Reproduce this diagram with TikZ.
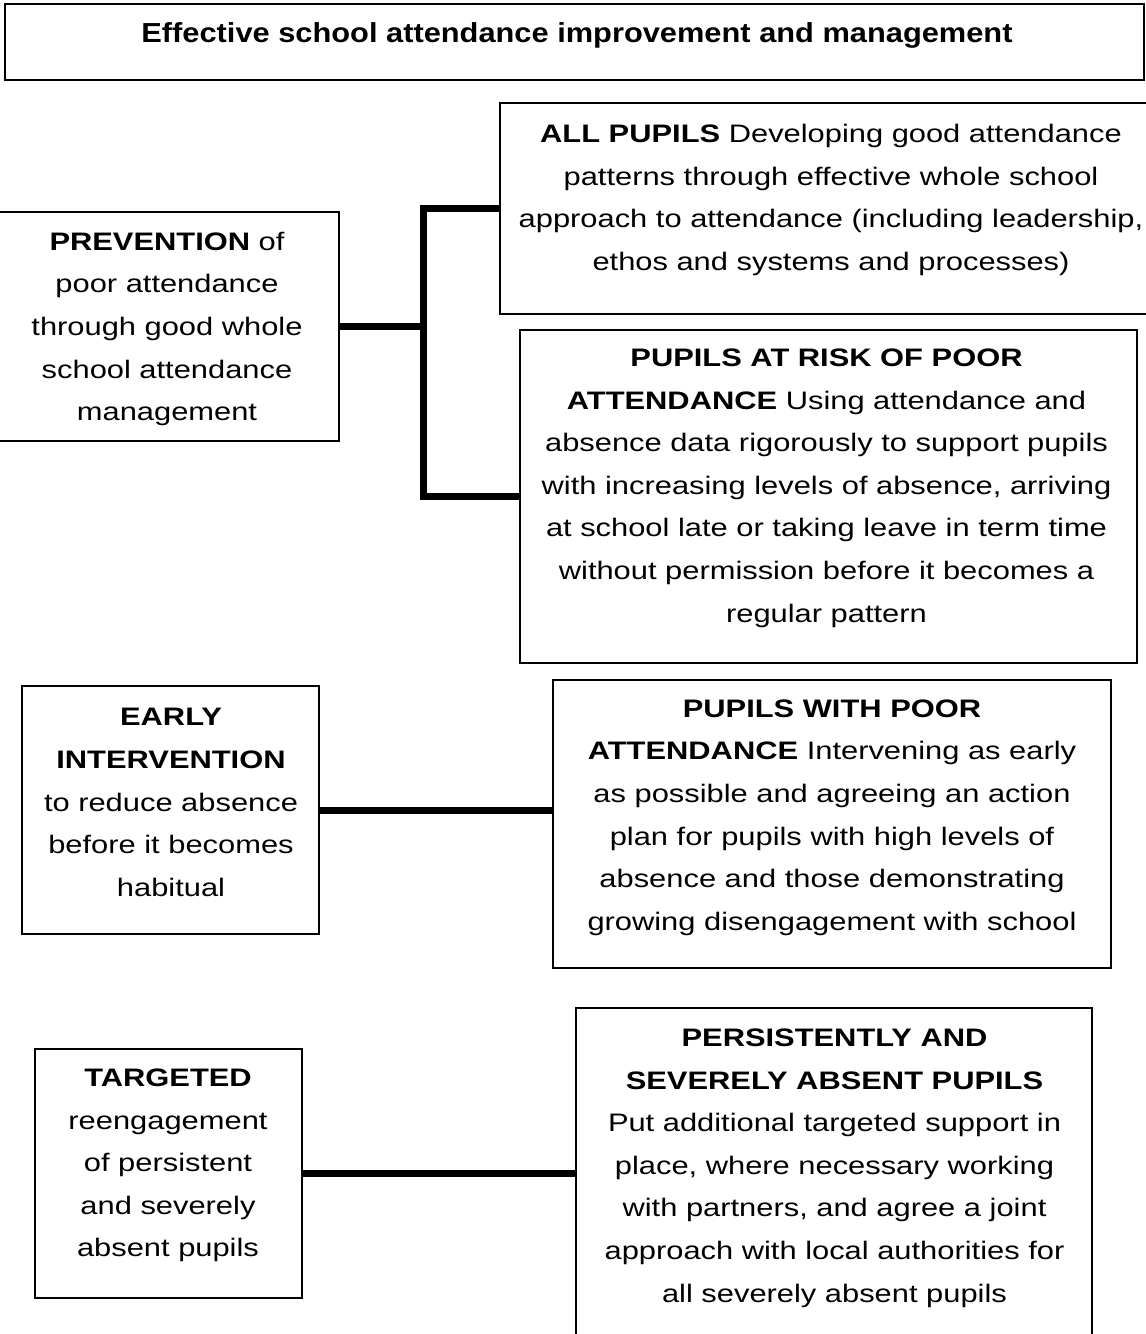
\documentclass[tikz,border=0pt]{standalone}
\usepackage{fontspec}
\newfontfamily\bodyfont[FakeStretch=1.22]{Liberation Sans}
\newfontfamily\headfont[FakeStretch=1.12]{Liberation Sans}
\tikzset{
  box/.style={draw=black, line width=2pt, rectangle, inner sep=0pt},
  txt/.style={align=center, inner sep=0pt, font=\bodyfont\fontsize{25.3}{42.6}\selectfont},
  conn/.style={draw=black, line width=7pt, line join=miter, line cap=butt},
}
\begin{document}
\begin{tikzpicture}[x=1pt,y=-1pt]
\clip (0,0) rectangle (1146,1334);
\fill[white] (0,0) rectangle (1146,1334);

% title
\node[box, minimum width=1139pt, minimum height=76pt] (title) at (574.5,42) {};
\node[inner sep=0pt, font=\headfont\fontsize{27.5}{32}\selectfont\bfseries] (titletext) at (577,35.5) {Effective school attendance improvement and management};

% boxes
\node[box, minimum width=660pt, minimum height=211pt] (all) at (830,208.5) {};
\node[box, minimum width=347pt, minimum height=229pt] (prev) at (165.5,326.5) {};
\node[box, minimum width=617pt, minimum height=333pt] (risk) at (828.5,496.5) {};
\node[box, minimum width=297pt, minimum height=248pt] (early) at (170.5,810) {};
\node[box, minimum width=558pt, minimum height=288pt] (poor) at (832,824) {};
\node[box, minimum width=267pt, minimum height=249pt] (targ) at (168.5,1173.5) {};
\node[box, minimum width=516pt, minimum height=340pt] (pers) at (834,1178) {};

% texts
\node[txt] (alltext) at (831,200) {\textbf{ALL PUPILS} Developing good attendance\\patterns through effective whole school\\approach to attendance (including leadership,\\ethos and systems and processes)};
\node[txt] (prevtext) at (167,329) {\textbf{PREVENTION} of\\poor attendance\\through good whole\\school attendance\\management};
\node[txt] (risktext) at (826.5,488) {\textbf{PUPILS AT RISK OF POOR}\\\textbf{ATTENDANCE} Using attendance and\\absence data rigorously to support pupils\\with increasing levels of absence, arriving\\at school late or taking leave in term time\\without permission before it becomes a\\regular pattern};
\node[txt] (earlytext) at (171,802.5) {\textbf{EARLY}\\\textbf{INTERVENTION}\\to reduce absence\\before it becomes\\habitual};
\node[txt] (poortext) at (832,817.5) {\textbf{PUPILS WITH POOR}\\\textbf{ATTENDANCE} Intervening as early\\as possible and agreeing an action\\plan for pupils with high levels of\\absence and those demonstrating\\growing disengagement with school};
\node[txt] (targtext) at (168,1165.5) {\textbf{TARGETED}\\reengagement\\of persistent\\and severely\\absent pupils};
\node[txt] (perstext) at (834.5,1168) {\textbf{PERSISTENTLY AND}\\\textbf{SEVERELY ABSENT PUPILS}\\Put additional targeted support in\\place, where necessary working\\with partners, and agree a joint\\approach with local authorities for\\all severely absent pupils};

% connectors
\coordinate (junc) at (423,326.5);
\draw[conn] (prev.east) -- (junc);
\draw[conn] (all.west) -| (junc) |- (risk.west);
\draw[conn] (early.east) -- (early.east -| poor.west);
\draw[conn] (targ.east) -- (targ.east -| pers.west);
\end{tikzpicture}
\end{document}
